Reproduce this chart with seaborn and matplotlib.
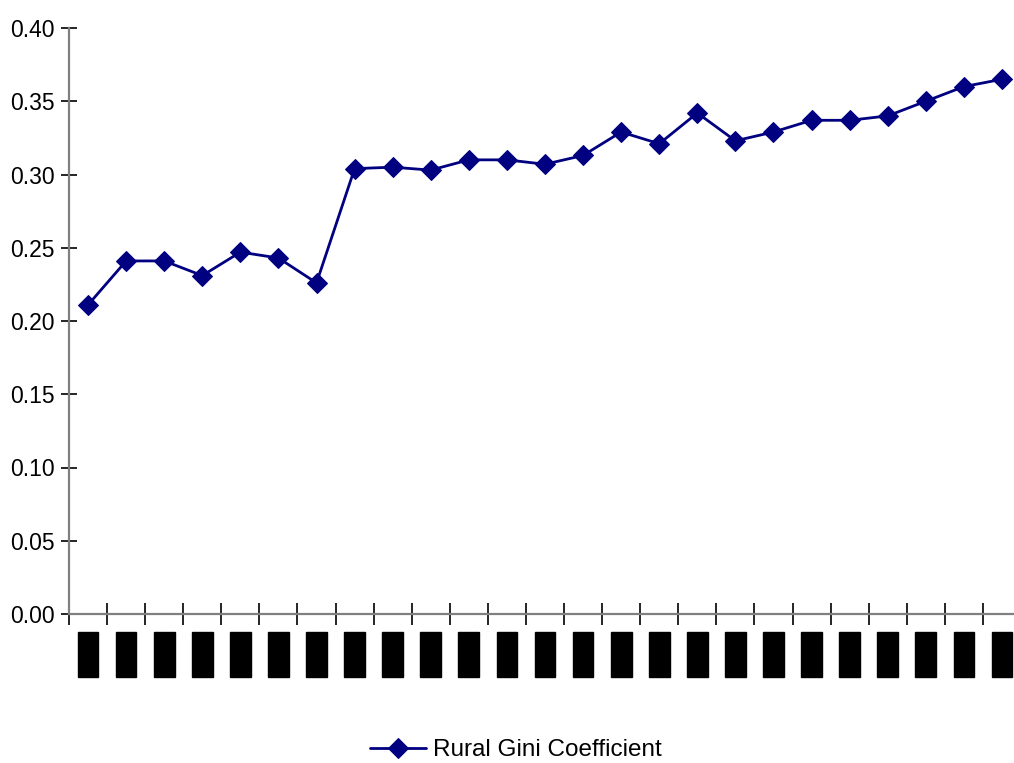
import matplotlib
matplotlib.use("Agg")
import matplotlib.pyplot as plt
import seaborn as sns
import numpy as np
import pandas as pd

# Survey years and rural Gini coefficient
years = ["1978", "1980", "1981", "1982", "1983", "1984", "1985", "1986", "1987",
         "1988", "1989", "1990", "1991", "1992", "1993", "1994", "1995", "1996",
         "1997", "1998", "1999", "2000", "2001", "2002", "2003"]
gini = [0.211, 0.241, 0.241, 0.231, 0.247, 0.243, 0.226, 0.304, 0.305,
        0.303, 0.310, 0.310, 0.307, 0.313, 0.329, 0.321, 0.342, 0.323,
        0.329, 0.337, 0.337, 0.340, 0.350, 0.360, 0.365]
yticks = [0.00, 0.05, 0.10, 0.15, 0.20, 0.25, 0.30, 0.35, 0.40]

sns.set_style("white")
plt.rcParams["font.family"] = ["Liberation Sans", "DejaVu Sans"]
plt.rcParams["text.color"] = "black"
plt.rcParams["xtick.color"] = "black"
plt.rcParams["ytick.color"] = "black"

df = pd.DataFrame({"pos": np.arange(len(years)), "gini": gini})

W, H = 1014, 763
fig = plt.figure(figsize=(W / 100, H / 100), dpi=100)
ax = fig.add_axes([69 / W, 1 - 614 / H, 952 / W, (614 - 28) / H])

navy = "#000080"
sns.lineplot(data=df, x="pos", y="gini", ax=ax, color=navy, linewidth=2,
             marker="D", markersize=10, markeredgecolor=navy,
             label="Rural Gini Coefficient", legend=False)

ax.set_xlim(-0.5, len(years) - 0.5)
ax.set_ylim(0, 0.40)
ax.set_xlabel("")
ax.set_ylabel("")

# y axis
ax.set_yticks(yticks)
ax.set_yticklabels([f"{v:.2f}" for v in yticks], fontsize=16.5, color="black")
ax.tick_params(axis="y", left=True, direction="inout", length=12, width=1.2,
               color="black", labelcolor="black", pad=4)

# x axis: tick marks between categories, labels at category centres
ax.set_xticks(np.arange(len(years)))
ax.set_xticks(np.arange(len(years) + 1) - 0.5, minor=True)
ax.tick_params(axis="x", which="major", bottom=True, length=0, pad=14)
ax.tick_params(axis="x", which="minor", bottom=True, direction="inout",
               length=16, width=1.2, color="black")
ax.set_xticklabels(years, rotation=90, fontsize=13.5, color="black",
                   va="top", ha="center")
for lab in ax.get_xticklabels():
    lab.set_bbox(dict(boxstyle="square,pad=0.1", facecolor="black",
                      edgecolor="black"))

for side in ("top", "right"):
    ax.spines[side].set_visible(False)
for side in ("left", "bottom"):
    ax.spines[side].set_color("#808080")
    ax.spines[side].set_linewidth(1.6)

handles, labels = ax.get_legend_handles_labels()
leg = fig.legend(handles, labels, loc="center",
                 bbox_to_anchor=(516 / W, 1 - 750 / H), frameon=False,
                 fontsize=17.5, handlelength=2.3, handletextpad=0.3,
                 numpoints=1)
for t in leg.get_texts():
    t.set_color("black")

fig.savefig("out.png", dpi=100)
